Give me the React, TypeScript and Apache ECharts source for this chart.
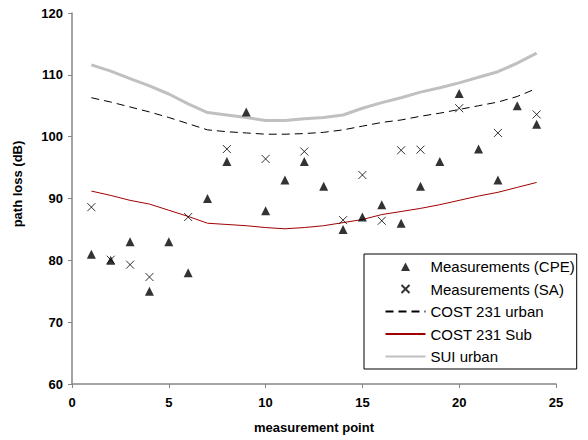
import React, { useEffect, useRef } from "react";
import * as echarts from "echarts";

const FONT = "'Liberation Sans', Arial, sans-serif";

// measurement points 1..24
const points = [1, 2, 3, 4, 5, 6, 7, 8, 9, 10, 11, 12, 13, 14, 15, 16, 17, 18, 19, 20, 21, 22, 23, 24];

// Measurements (CPE)
const cpe = [81, 80, 83, 75, 83, 78, 90, 96, 104, 88, 93, 96, 92, 85, 87, 89, 86, 92, 96, 107, 98, 93, 105, 102];

// Measurements (SA) - only at some points
const saPoints = [1, 2, 3, 4, 6, 8, 10, 12, 14, 15, 16, 17, 18, 20, 22, 24];
const saValues = [88.6, 80.1, 79.3, 77.3, 87.0, 98.0, 96.4, 97.6, 86.5, 93.8, 86.4, 97.8, 97.9, 104.6, 100.6, 103.6];

// Model curves
const cost231Urban = [106.3, 105.6, 104.8, 104.0, 103.1, 102.1, 101.1, 100.8, 100.6, 100.4, 100.4, 100.5, 100.7, 101.1, 101.7, 102.3, 102.7, 103.3, 103.8, 104.4, 105.0, 105.6, 106.5, 107.8];
const cost231Sub = [91.2, 90.5, 89.7, 89.1, 88.1, 87.1, 86.0, 85.8, 85.6, 85.3, 85.1, 85.3, 85.6, 86.1, 86.6, 87.4, 87.9, 88.4, 89.0, 89.7, 90.4, 91.0, 91.8, 92.6];
const suiUrban = [111.6, 110.6, 109.4, 108.2, 106.9, 105.3, 103.9, 103.5, 103.1, 102.6, 102.6, 102.9, 103.1, 103.5, 104.6, 105.5, 106.3, 107.2, 107.9, 108.7, 109.6, 110.5, 111.9, 113.5];

const seriesNames = ["Measurements (CPE)", "Measurements (SA)", "COST 231 urban", "COST 231 Sub", "SUI urban"];

const xMin = 0, xMax = 25, xInterval = 5;
const yMin = 60, yMax = 120, yInterval = 10;

const xTitle = "measurement point";
const yTitle = "path loss (dB)";

const zip = (xs: number[], ys: number[]) => xs.map((x, i) => [x, ys[i]]);

export default function App() {
  const ref = useRef<HTMLDivElement>(null);
  useEffect(() => {
    if (!ref.current) return;
    const chart = echarts.init(ref.current, null, { renderer: "svg" });
    const axisColor = "#868686";
    const hiddenSymbol = { color: "rgba(0,0,0,0)", borderColor: "rgba(0,0,0,0)", borderWidth: 0 };
    // legend icons laid out in a 40x9 box (the two M-only points fix the bounds)
    const triangleIcon = "path://M0,0M40,9M20,0.5L24.5,9L15.5,9Z";
    const crossIcon = "path://M0,0M40,9M16,0.5L24,8.5M24,0.5L16,8.5";
    chart.setOption({
      animation: false,
      backgroundColor: "#ffffff",
      grid: { left: 72, right: 32, top: 13, bottom: 56, containLabel: false },
      xAxis: {
        type: "value",
        min: xMin,
        max: xMax,
        interval: xInterval,
        axisLine: { show: true, onZero: false, lineStyle: { color: axisColor, width: 1.5 } },
        axisTick: { show: true, inside: false, length: 4, lineStyle: { color: axisColor, width: 1 } },
        splitLine: { show: false },
        axisLabel: { color: "#000", fontFamily: FONT, fontWeight: "bold", fontSize: 13, margin: 12 },
      },
      yAxis: {
        type: "value",
        min: yMin,
        max: yMax,
        interval: yInterval,
        axisLine: { show: true, onZero: false, lineStyle: { color: axisColor, width: 1.5 } },
        axisTick: { show: true, inside: false, length: 4, lineStyle: { color: axisColor, width: 1 } },
        splitLine: { show: false },
        axisLabel: { color: "#000", fontFamily: FONT, fontWeight: "bold", fontSize: 13, margin: 9 },
      },
      graphic: [
        {
          type: "text",
          x: 314,
          y: 427,
          style: {
            text: xTitle,
            fill: "#000",
            font: `bold 13px ${FONT}`,
            align: "center",
            verticalAlign: "middle",
          },
        },
        {
          type: "text",
          x: 17,
          y: 184,
          rotation: Math.PI / 2,
          style: {
            text: yTitle,
            fill: "#000",
            font: `bold 13px ${FONT}`,
            align: "center",
            verticalAlign: "middle",
          },
        },
      ],
      legend: {
        orient: "vertical",
        left: 364,
        top: 254,
        padding: [5, 2, 5, 19],
        itemWidth: 40,
        itemHeight: 9,
        itemGap: 7.5,
        borderColor: "#000",
        borderWidth: 1,
        borderRadius: 0,
        backgroundColor: "#ffffff",
        textStyle: { color: "#000", fontFamily: FONT, fontSize: 15 },
        data: [
          { name: seriesNames[0], icon: triangleIcon },
          { name: seriesNames[1], icon: crossIcon },
          { name: seriesNames[2], itemStyle: hiddenSymbol },
          { name: seriesNames[3], itemStyle: hiddenSymbol },
          { name: seriesNames[4], itemStyle: hiddenSymbol },
        ],
      },
      series: [
        {
          name: seriesNames[0],
          type: "scatter",
          symbol: "triangle",
          symbolSize: 9,
          itemStyle: { color: "#000" },
          data: zip(points, cpe),
          z: 5,
        },
        {
          name: seriesNames[1],
          type: "scatter",
          symbol: "path://M0,0L10,10M10,0L0,10",
          symbolSize: 8,
          itemStyle: { color: "none", borderColor: "#000", borderWidth: 1 },
          data: zip(saPoints, saValues),
          z: 5,
        },
        {
          name: seriesNames[2],
          type: "line",
          symbol: "none",
          showSymbol: false,
          lineStyle: { color: "#000", width: 1, type: [8, 5] },
          itemStyle: { color: "#000" },
          data: zip(points, cost231Urban),
          z: 3,
        },
        {
          name: seriesNames[3],
          type: "line",
          symbol: "none",
          showSymbol: false,
          lineStyle: { color: "#a00000", width: 1 },
          itemStyle: { color: "#a00000" },
          data: zip(points, cost231Sub),
          z: 3,
        },
        {
          name: seriesNames[4],
          type: "line",
          symbol: "none",
          showSymbol: false,
          lineStyle: { color: "#c0c0c0", width: 3 },
          itemStyle: { color: "#c0c0c0" },
          data: zip(points, suiUrban),
          z: 2,
        },
      ],
    });
    return () => chart.dispose();
  }, []);
  return (
    <div
      ref={ref}
      style={{ position: "fixed", left: 0, top: 0, width: 588, height: 440 }}
    />
  );
}
